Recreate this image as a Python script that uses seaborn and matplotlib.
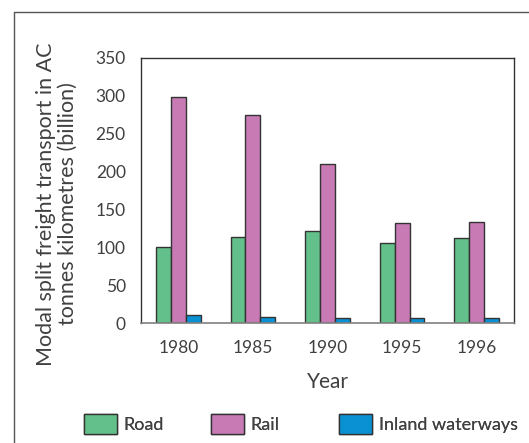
import matplotlib
matplotlib.use("Agg")
import matplotlib.pyplot as plt
import seaborn as sns
import pandas as pd
from matplotlib.lines import Line2D

years = ["1980", "1985", "1990", "1995", "1996"]
modes = ["Road", "Rail", "Inland waterways"]
road = [101, 113, 121, 106, 112]
rail = [298, 275, 210, 132, 134]
inland = [10, 8, 7, 6, 7]
y_ticks = [0, 50, 100, 150, 200, 250, 300, 350]

colors = ["#64c08a", "#c87ab4", "#0a91d4"]
text_color = "#404040"

rows = []
for mode, vals in zip(modes, [road, rail, inland]):
    for yr, v in zip(years, vals):
        rows.append({"Year": yr, "Mode": mode, "Value": v})
df = pd.DataFrame(rows)

sns.set_theme(style="white")
plt.rcParams["font.family"] = ["Lato", "DejaVu Sans"]
plt.rcParams["text.color"] = text_color

W, H = 529, 443
fig = plt.figure(figsize=(W / 100, H / 100), dpi=100)
ax = fig.add_axes([141 / W, 1 - 323 / H, (514 - 141) / W, (323 - 58) / H])

sns.barplot(data=df, x="Year", y="Value", hue="Mode", order=years,
            hue_order=modes, palette=colors, width=0.6, gap=0,
            edgecolor="#333333", linewidth=1.0, saturation=1, ax=ax)

handles, labels = ax.get_legend_handles_labels()
if ax.get_legend() is not None:
    ax.get_legend().remove()

ax.set_xlim(-0.5, 4.5)
ax.set_ylim(0, 350)
ax.set_yticks(y_ticks)
ax.set_yticklabels([str(t) for t in y_ticks])

# category boundaries as crossing ticks, labels at centres
ax.set_xticks([i - 0.5 for i in range(len(years) + 1)])
ax.set_xticklabels([])
ax.set_xticks(range(len(years)), minor=True)
ax.set_xticklabels(years, minor=True)
ax.tick_params(axis="x", which="major", direction="inout", length=14,
               width=1, color="#333333")
ax.tick_params(axis="x", which="minor", length=0, pad=12,
               labelsize=12.5, labelcolor=text_color)
ax.tick_params(axis="y", direction="out", length=8, width=1,
               color="#555555", labelsize=12.5, labelcolor=text_color, pad=3)

for side in ["left", "top", "right"]:
    ax.spines[side].set_color("#333333")
    ax.spines[side].set_linewidth(1)
ax.spines["bottom"].set_color("#808080")
ax.spines["bottom"].set_linewidth(1.2)

ax.set_xlabel("")
ax.set_ylabel("")
fig.text(327.5 / W, 1 - 382 / H, "Year", ha="center", va="center",
         fontsize=15, color=text_color)
fig.text(57 / W, 1 - 204 / H,
         "Modal split freight transport in AC\ntonnes kilometres (billion)",
         rotation=90, ha="center", va="center", fontsize=15.5,
         linespacing=1.15, color=text_color, multialignment="center")

# legend entries at fixed positions
for h, lab, x0 in zip(handles, labels, [84, 211, 339]):
    leg = fig.legend([h], [lab], loc="center left",
                     bbox_to_anchor=(x0 / W, 1 - 424 / H),
                     frameon=False, fontsize=13, handlelength=1.8,
                     handleheight=1.35, handletextpad=0.4,
                     borderpad=0, borderaxespad=0)
    fig.add_artist(leg)

# page frame
fig.add_artist(Line2D([14 / W, 14 / W], [0, 1 - 12 / H],
                      transform=fig.transFigure, color="#555555", lw=1))
fig.add_artist(Line2D([14 / W, 1], [1 - 12 / H, 1 - 12 / H],
                      transform=fig.transFigure, color="#555555", lw=1))

fig.savefig("out.png", dpi=100)
